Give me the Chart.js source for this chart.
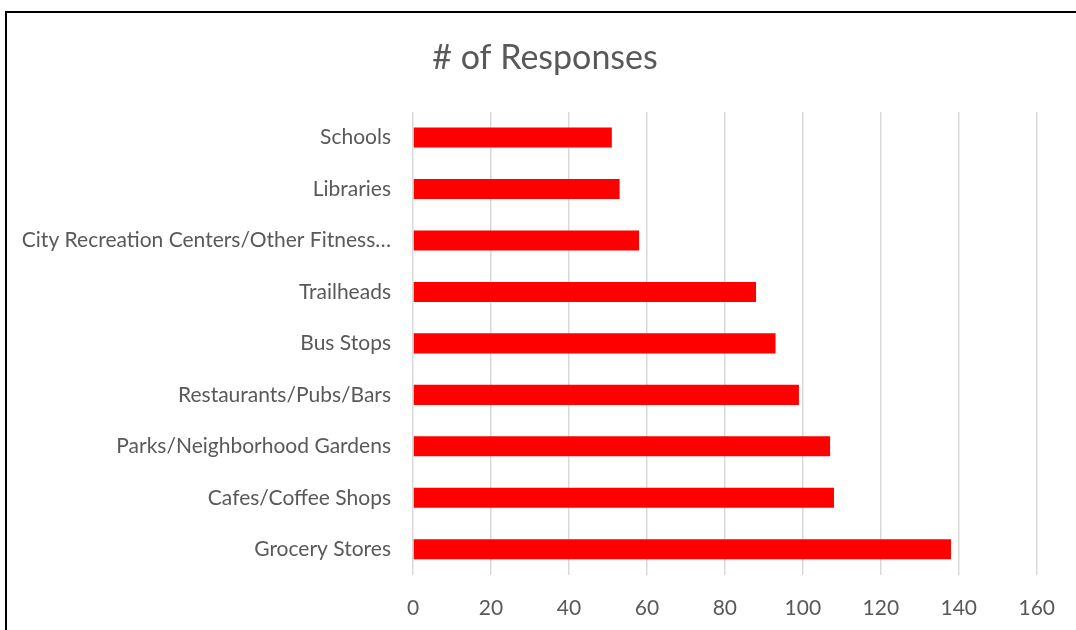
<!DOCTYPE html>
<html>
<head>
<meta charset="utf-8">
<script src="https://cdn.jsdelivr.net/npm/chart.js@4/dist/chart.umd.min.js"></script>
<style>
    body { margin: 0; background: #fff; }
    #wrap { position: relative; width: 1076px; height: 630px; overflow: hidden; }
    #frame {
        position: absolute; left: 5px; top: 11px; width: 1090px; height: 700px;
        border: 2px solid #000; pointer-events: none; box-sizing: border-box;
    }
</style>
</head>
<body>
<div id="wrap">
    <canvas id="chart-bar" width="1076" height="630"></canvas>
    <div id="frame"></div>
</div>
<script>
var categories = [
    "Schools",
    "Libraries",
    "City Recreation Centers/Other Fitness\u2026",
    "Trailheads",
    "Bus Stops",
    "Restaurants/Pubs/Bars",
    "Parks/Neighborhood Gardens",
    "Cafes/Coffee Shops",
    "Grocery Stores"
];
var responses = [51, 53, 58, 88, 93, 99, 107, 108, 138];
var xTicks = [0, 20, 40, 60, 80, 100, 120, 140, 160];

var textGrey = '#595959';

var ctx = document.getElementById("chart-bar").getContext("2d");

var myChart = new Chart(ctx, {
    type: "bar",
    data: {
        labels: categories,
        datasets: [{
            label: "# of Responses",
            data: responses,
            backgroundColor: "#ff0000",
            borderWidth: 0,
            categoryPercentage: 1,
            barPercentage: 0.39
        }]
    },
    options: {
        indexAxis: 'y',
        responsive: false,
        animation: false,
        layout: {
            padding: { left: 14, right: 0, top: 0, bottom: 0 }
        },
        plugins: {
            legend: { display: false },
            tooltip: { enabled: false },
            title: {
                display: true,
                text: "# of Responses",
                color: textGrey,
                font: { family: 'Lato', size: 34, weight: 'normal', lineHeight: 1.2 },
                padding: { top: 38, bottom: 33 }
            }
        },
        scales: {
            y: {
                grid: { display: false, drawTicks: false },
                border: { display: false },
                ticks: {
                    color: textGrey,
                    padding: 22,
                    font: { family: 'Lato', size: 21 }
                },
                afterFit: function (scale) {
                    scale.width = 399;
                }
            },
            // empty right-hand axis, only keeps the plot's right edge at 160
            yRight: {
                type: 'category',
                position: 'right',
                grid: { display: false, drawTicks: false },
                border: { display: false },
                ticks: { display: false },
                afterFit: function (scale) {
                    scale.width = 34;
                }
            },
            x: {
                min: 0,
                max: 160,
                afterBuildTicks: function (scale) {
                    scale.ticks = xTicks.map(function (v) { return { value: v }; });
                },
                grid: {
                    color: '#d9d9d9',
                    lineWidth: 1.5,
                    drawTicks: false
                },
                border: { display: false },
                ticks: {
                    color: textGrey,
                    padding: 21,
                    maxRotation: 0,
                    font: { family: 'Lato', size: 21 }
                },
                afterFit: function (scale) {
                    scale.height = 55;
                }
            }
        }
    }
});
</script>
</body>
</html>
